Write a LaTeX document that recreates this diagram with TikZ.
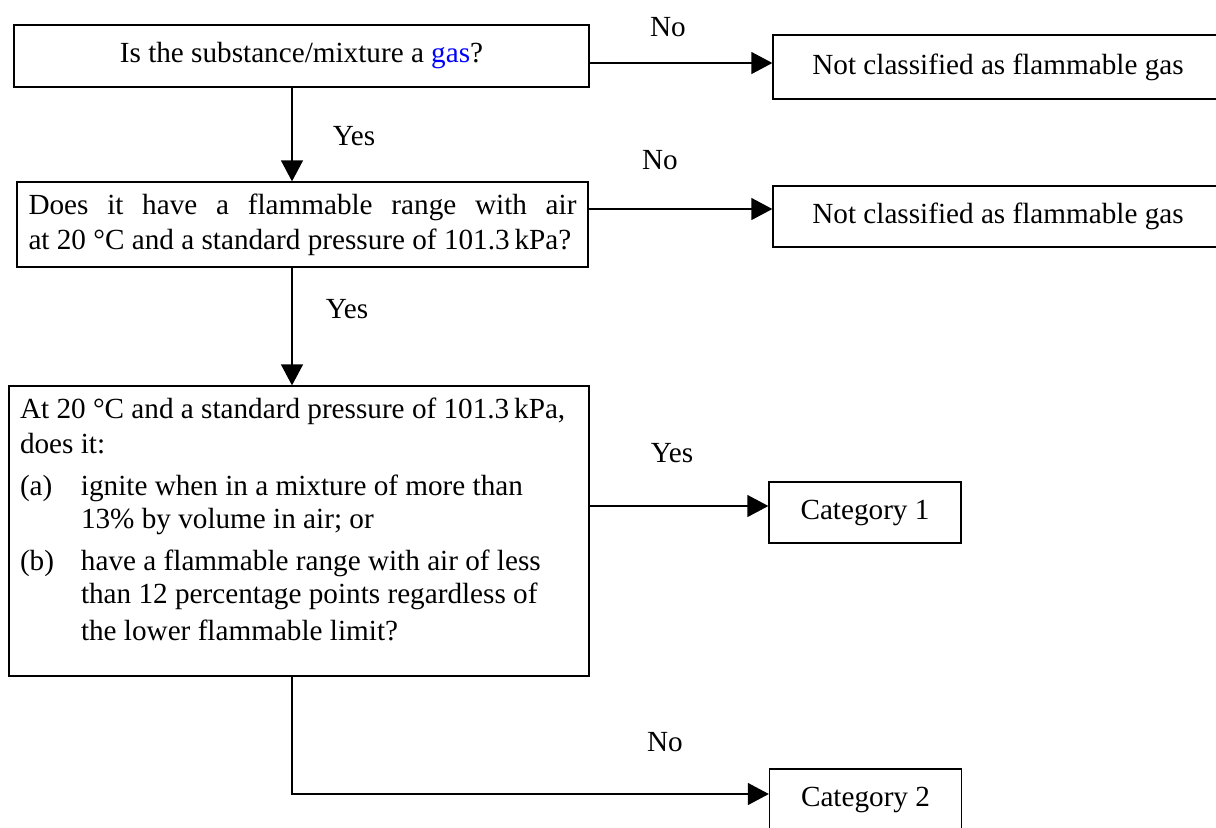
\documentclass[tikz,border=0pt]{standalone}
\usepackage{fontspec}
\setmainfont{Liberation Serif}
\usetikzlibrary{arrows.meta}

\begin{document}
\begin{tikzpicture}[x=0.5pt, y=-0.5pt,
  every node/.style={font=\fontsize{14.6pt}{17.5pt}\selectfont},
  box/.style={draw, line width=0.65pt, inner sep=0pt},
  arw/.style={line width=0.65pt, -{Triangle[length=10.5pt,width=11pt]}}]
  \useasboundingbox (0,0) rectangle (1216,827);
  \coordinate (spine) at (292,0);
  \node[box, minimum width=287.5pt, minimum height=31pt]   (q1) at (301.5, 56)   {Is the substance/mixture a \textcolor{blue}{gas}?};
  \node[box, minimum width=225pt, minimum height=32pt]     (r1) at (998, 67)     {Not classified as flammable gas};
  \node[box, text width=274pt, inner xsep=5.75pt, minimum height=42.5pt, align=justify]
                                                           (q2) at (302.5, 224.5) {Does it have a flammable range with air\linebreak at 20 °C and a standard pressure of 101.3\,kPa?};
  \node[box, minimum width=225pt, minimum height=30.5pt]   (r2) at (998, 216.5)  {Not classified as flammable gas};
  \node[box, inner xsep=5.5pt]                             (q3) at (299, 531)    {\parbox[c][145pt][t]{279pt}{\fontsize{14.6pt}{16.5pt}\selectfont
    \rule{0pt}{16pt}At 20 °C and a standard pressure of 101.3\,kPa,\\[1pt]
    does it:\\[4.5pt]
    \makebox[30.5pt][l]{(a)}ignite when in a mixture of more than\\
    \hspace*{30.5pt}13\% by volume in air; or\\[4.5pt]
    \makebox[30.5pt][l]{(b)}have a flammable range with air of less\\
    \hspace*{30.5pt}than 12 percentage points regardless of\\[2pt]
    \hspace*{30.5pt}the lower flammable limit?}};
  \node[box, minimum width=96pt, minimum height=30.5pt]    (c1) at (865, 512.5)  {Category 1};
  \node[box, minimum width=96pt, minimum height=30.5pt]    (c2) at (865.5, 799.5) {Category 2};
  \node (no1)  at (668, 27)  {No};
  \node (yes1) at (354, 136) {Yes};
  \node (no2)  at (660, 160) {No};
  \node (yes2) at (347, 309) {Yes};
  \node (yes3) at (672, 453) {Yes};
  \node (no3)  at (665, 742) {No};
  \draw[arw] ([yshift=2pt]r1.west -| q1.east)    -- ([yshift=2pt]r1.west);
  \draw[arw] (q1.south -| spine)                 -- (q2.north -| spine);
  \draw[arw] ([yshift=3.75pt]r2.west -| q2.east) -- ([yshift=3.75pt]r2.west);
  \draw[arw] (q2.south -| spine)                 -- (q3.north -| spine);
  \draw[arw] ([yshift=3.25pt]c1.west -| q3.east) -- ([yshift=3.25pt]c1.west);
  \draw[arw] (q3.south -| spine)                 |- ([yshift=2.75pt]c2.west);
\end{tikzpicture}
\end{document}
